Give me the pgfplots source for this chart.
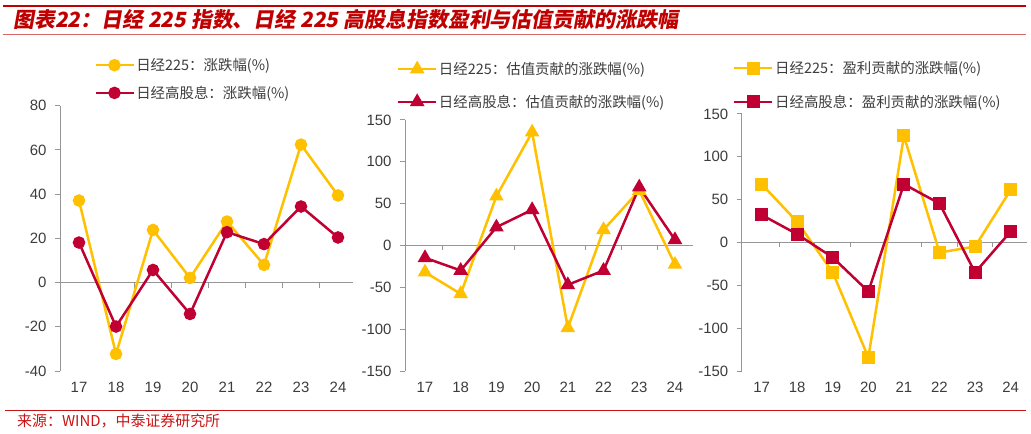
\documentclass[border=0pt]{standalone}
\usepackage{pgfplots}
\pgfplotsset{compat=1.18}
\usepackage{fontspec}
\setmainfont{Liberation Sans}
\newfontfamily\cjk{Noto Sans CJK SC}
\newfontfamily\cjktitle[FakeSlant=0.18]{Noto Sans CJK SC}
\definecolor{cyel}{RGB}{255,192,0}
\definecolor{cred}{RGB}{192,0,50}
\definecolor{axgray}{RGB}{150,150,150}
\definecolor{txtgray}{RGB}{60,60,60}
\definecolor{titlered}{RGB}{192,0,0}
\definecolor{srcred}{RGB}{200,20,20}

\pgfplotstableread{
x a1 b1 a2 b2 a3 b3
0 37.1 18.1 -31.9 -14.7 68.1 32.2
1 -32.3 -19.9 -57.8 -29.9 24.1 9.7
2 23.8 5.7 58.9 21.9 -35.0 -17.5
3 2.1 -14.2 135.4 42.7 -134.2 -57.2
4 27.6 22.8 -98.4 -47.0 124.4 68.1
5 8.0 17.4 18.8 -29.9 -11.7 45.5
6 62.4 34.4 65.7 69.7 -4.7 -35.0
7 39.4 20.4 -22.7 6.8 61.4 12.8
}\data

\pgfplotsset{
  mystyle/.style={
    scale only axis,
    anchor=south west,
    axis lines*=left,
    x axis line style={draw=none},
    y axis line style={draw=axgray, line width=1pt},
    xtick={0,...,7},
    xticklabels={17,18,19,20,21,22,23,24},
    xtick style={draw=none},
    ytick style={draw=axgray, line width=1pt},
    tick align=outside,
    major tick length=5bp,
    ticklabel style={font=\fontsize{15}{17}\selectfont, text=txtgray},
    yticklabel style={xshift=-5bp},
    xticklabel style={yshift=-3bp},
    /pgf/number format/assume math mode=true,
    legend cell align=left,
    legend style={draw=none, fill=none, inner sep=0pt, outer sep=0pt,
      anchor=north west, font=\cjk\fontsize{14.5}{16}\selectfont, text=txtgray,
      row sep=12bp, nodes={inner sep=1.5bp}},
    legend image code/.code={\draw[mark repeat=2,mark phase=2,##1] plot coordinates {(0bp,0bp) (19bp,0bp) (38bp,0bp)};},
    clip=false,
  },
  ylin/.style={color=#1, line width=2.5bp, mark options={solid, fill=#1, draw=#1}},
}

\begin{document}
\begin{tikzpicture}
\useasboundingbox (0bp,0bp) rectangle (1031bp,434bp);
% header lines
\draw[titlered, line width=2.5bp] (3bp,427.8bp) -- (1026bp,427.8bp);
\draw[titlered!60, line width=1bp] (3bp,399bp) -- (1026bp,399bp);
\node[anchor=west, inner sep=0pt, text=titlered] at (13bp,414bp)
  {\cjktitle\bfseries\fontsize{21}{24}\selectfont 图表22：日经 225 指数、日经 225 高股息指数盈利与估值贡献的涨跌幅};
% footer
\draw[srcred, line width=1bp] (5bp,23.3bp) -- (1026bp,23.3bp);
\node[anchor=west, inner sep=0pt, text=srcred] at (17bp,13bp)
  {\cjk\fontsize{15}{17}\selectfont 来源：WIND，中泰证券研究所};

% chart 1
\begin{axis}[mystyle, at={(60bp,63bp)},
  width=292.8bp, height=265.3bp, xmin=-0.514, xmax=7.4, ymin=-40, ymax=80,
  ytick={-40,-20,0,20,40,60,80},
  legend style={at={(axis description cs:0.117,1.184)}, row sep=11bp}]
\draw[axgray, line width=1pt] (axis cs:-0.514,0) -- (axis cs:7.4,0);
\pgfplotsinvokeforeach{0.5,1.5,2.5,3.5,4.5,5.5,6.5}{\draw[axgray, line width=1pt] (axis cs:#1,0) -- ++(0bp,-5bp);}
\addplot[ylin=cyel, mark=*, mark size=5bp] table[x=x,y=a1] {\data};
\addlegendentry{日经225：涨跌幅(\%)}
\addplot[ylin=cred, mark=*, mark size=5bp] table[x=x,y=b1] {\data};
\addlegendentry{日经高股息：涨跌幅(\%)}
\end{axis}

% chart 2
\begin{axis}[mystyle, at={(405bp,63bp)},
  width=287.8bp, height=251bp, xmin=-0.56, xmax=7.5, ymin=-150, ymax=150,
  ytick={-150,-100,-50,0,50,100,150},
  legend style={at={(axis description cs:-0.028,1.236)}, row sep=16bp}]
\draw[axgray, line width=1pt] (axis cs:-0.56,0) -- (axis cs:7.5,0);
\pgfplotsinvokeforeach{0.5,1.5,2.5,3.5,4.5,5.5,6.5}{\draw[axgray, line width=1pt] (axis cs:#1,0) -- ++(0bp,-5bp);}
\addplot[ylin=cyel, mark=triangle*, mark size=6bp] table[x=x,y=a2] {\data};
\addlegendentry{日经225：估值贡献的涨跌幅(\%)}
\addplot[ylin=cred, mark=triangle*, mark size=6bp] table[x=x,y=b2] {\data};
\addlegendentry{日经高股息：估值贡献的涨跌幅(\%)}
\end{axis}

% chart 3
\begin{axis}[mystyle, at={(741.7bp,63bp)},
  width=285.3bp, height=257bp, xmin=-0.56, xmax=7.46, ymin=-150, ymax=150,
  ytick={-150,-100,-50,0,50,100,150},
  legend style={at={(axis description cs:-0.03,1.211)}, row sep=17bp}]
\draw[axgray, line width=1pt] (axis cs:-0.56,0) -- (axis cs:7.46,0);
\pgfplotsinvokeforeach{0.5,1.5,2.5,3.5,4.5,5.5,6.5}{\draw[axgray, line width=1pt] (axis cs:#1,0) -- ++(0bp,-5bp);}
\addplot[ylin=cyel, mark=square*, mark size=5.3bp] table[x=x,y=a3] {\data};
\addlegendentry{日经225：盈利贡献的涨跌幅(\%)}
\addplot[ylin=cred, mark=square*, mark size=5.3bp] table[x=x,y=b3] {\data};
\addlegendentry{日经高股息：盈利贡献的涨跌幅(\%)}
\end{axis}
\end{tikzpicture}
\end{document}
